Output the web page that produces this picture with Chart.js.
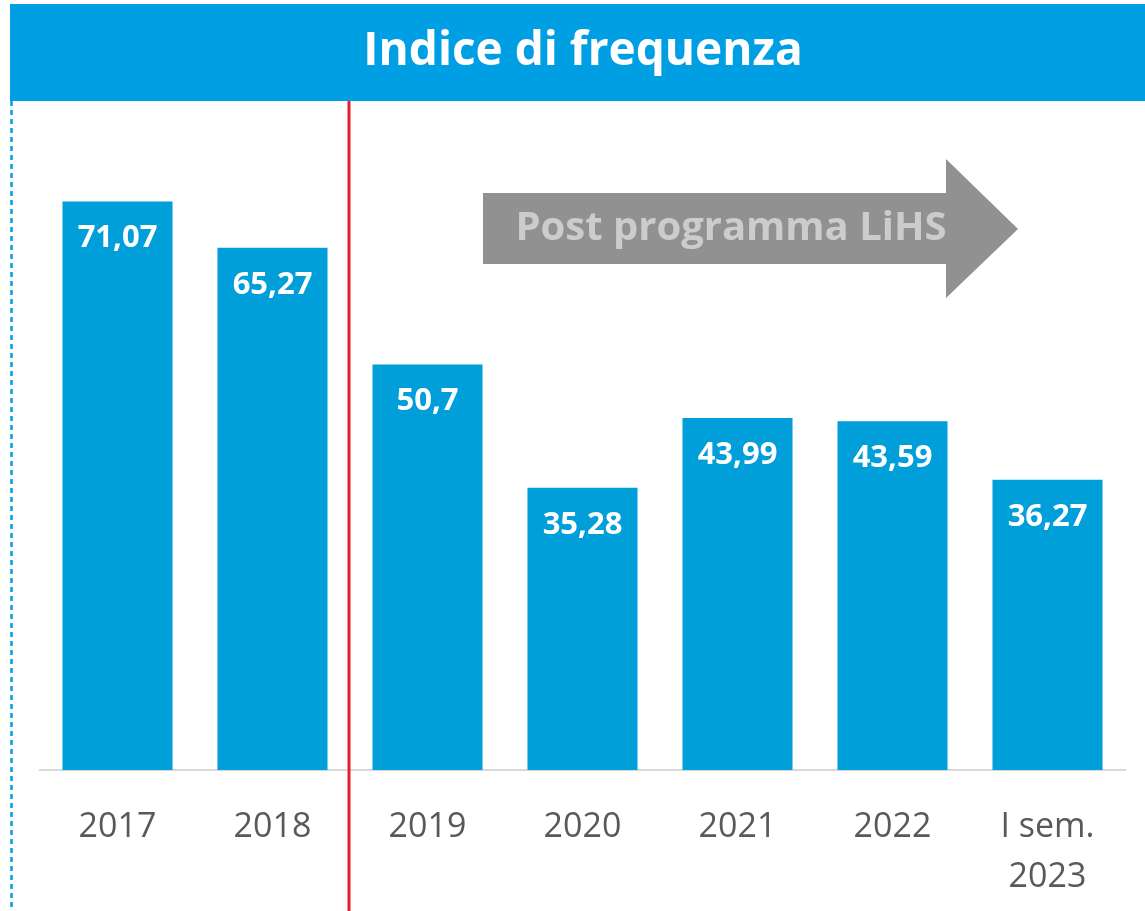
<!DOCTYPE html>
<html><head><meta charset="utf-8">
<script src="https://cdn.jsdelivr.net/npm/chart.js@4.4.1/dist/chart.umd.min.js"></script>
<style>html,body{margin:0;padding:0;background:#fff;}canvas{display:block;}</style>
</head><body>
<canvas id="c" width="1145" height="911"></canvas>
<script>
const categories = ['2017','2018','2019','2020','2021','2022',['I sem.','2023']];
const values = [71.07, 65.27, 50.7, 35.28, 43.99, 43.59, 36.27];
const chartTitle = 'Indice di frequenza';
const arrowText = 'Post programma LiHS';

const FONT = "'Open Sans', 'Noto Sans', sans-serif";

const deco = {
  id: 'deco',
  beforeDraw(chart) {
    const ctx = chart.ctx;
    ctx.save();
    ctx.fillStyle = '#fff';
    ctx.fillRect(0, 0, chart.width, chart.height);
    // title bar
    ctx.fillStyle = '#009FE3';
    ctx.fillRect(10, 4, chart.width - 10, 97);
    ctx.fillStyle = '#fff';
    ctx.font = "bold 46px " + FONT;
    ctx.textAlign = 'center';
    ctx.textBaseline = 'middle';
    ctx.fillText(chartTitle, 583, 52);
    // dotted left border
    ctx.strokeStyle = '#009FE3';
    ctx.lineWidth = 2.5;
    ctx.setLineDash([5, 4]);
    ctx.beginPath();
    ctx.moveTo(11.5, 101);
    ctx.lineTo(11.5, chart.height);
    ctx.stroke();
    ctx.setLineDash([]);
    // arrow
    ctx.fillStyle = '#919191';
    ctx.beginPath();
    ctx.moveTo(483, 193);
    ctx.lineTo(946, 193);
    ctx.lineTo(946, 159);
    ctx.lineTo(1018, 229);
    ctx.lineTo(946, 298);
    ctx.lineTo(946, 264);
    ctx.lineTo(483, 264);
    ctx.closePath();
    ctx.fill();
    ctx.fillStyle = '#CCCCCC';
    ctx.font = "bold 40px " + FONT;
    ctx.fillText(arrowText, 731, 229);
    ctx.restore();
  },
  afterDraw(chart) {
    const ctx = chart.ctx;
    const xs = chart.scales.x;
    const xr = (xs.getPixelForValue(1) + xs.getPixelForValue(2)) / 2 - 1;
    ctx.save();
    ctx.strokeStyle = '#E81E30';
    ctx.lineWidth = 3;
    ctx.beginPath();
    ctx.moveTo(xr, 101);
    ctx.lineTo(xr, chart.height);
    ctx.stroke();
    ctx.restore();
  },
  afterDatasetsDraw(chart) {
    const ctx = chart.ctx;
    const meta = chart.getDatasetMeta(0);
    ctx.save();
    ctx.fillStyle = '#fff';
    ctx.font = "bold 31px " + FONT;
    ctx.textAlign = 'center';
    ctx.textBaseline = 'middle';
    meta.data.forEach((bar, i) => {
      const txt = String(values[i]).replace('.', ',');
      ctx.fillText(txt, bar.x, bar.y + 37);
    });
    ctx.restore();
  }
};

new Chart(document.getElementById('c'), {
  type: 'bar',
  data: {
    labels: categories,
    datasets: [{
      data: values,
      backgroundColor: '#009FDA',
      borderWidth: 0,
      categoryPercentage: 1,
      barPercentage: 0.71
    }]
  },
  options: {
    responsive: false,
    animation: false,
    devicePixelRatio: 1,
    layout: { padding: { top: 130, left: 40, right: 20, bottom: 0 } },
    plugins: { legend: { display: false }, tooltip: { enabled: false }, title: { display: false } },
    scales: {
      y: { display: false, min: 0, max: 80 },
      x: {
        grid: { display: false, drawTicks: false },
        border: { display: true, color: '#D9D9D9', width: 2 },
        ticks: { color: '#595959', font: { family: FONT, size: 34, lineHeight: 1.47 }, padding: 32, maxRotation: 0, autoSkip: false },
        afterFit(scale) { scale.height = 141; }
      }
    }
  },
  plugins: [deco]
});
</script>
</body></html>
